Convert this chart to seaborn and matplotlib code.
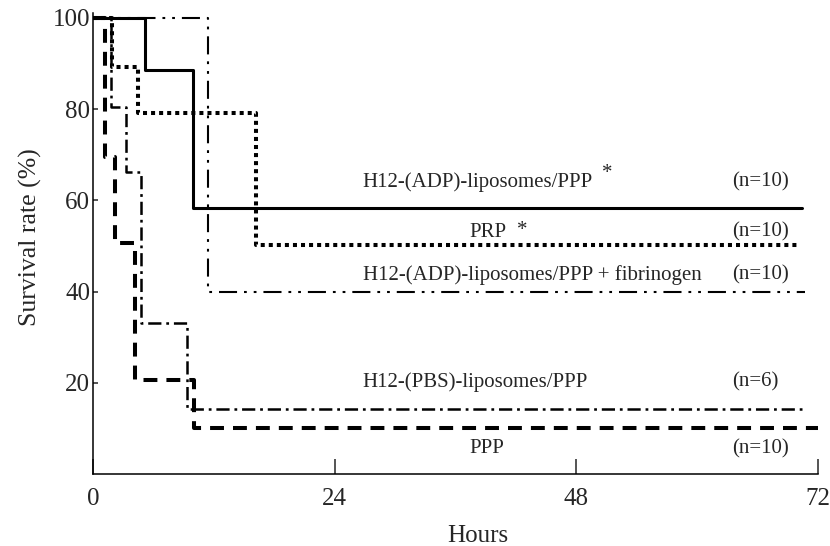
# Survival after treatment - step curves re-drawn from the figure
import matplotlib
matplotlib.use("Agg")
import matplotlib.pyplot as plt
import seaborn as sns

# step points (hours, survival %)
adp_hours = [0, 5.2, 9.9, 70.4]
adp_surv = [100, 88.5, 58.3, 58.3]
prp_hours = [0, 1.9, 4.5, 16.2, 70.2]
prp_surv = [100, 89.2, 79.1, 50.2, 50.2]
fib_hours = [0, 11.4, 70.7]
fib_surv = [100, 39.9, 39.9]
pbs_hours = [0, 1.8, 3.3, 4.8, 9.3, 70.4]
pbs_surv = [100, 80.4, 66.2, 33.1, 14.2, 14.2]
ppp_hours = [0, 1.2, 2.2, 4.2, 10.0, 72]
ppp_surv = [100, 69.5, 50.6, 20.6, 10.1, 10.1]

group_names = ["H12-(ADP)-liposomes/PPP", "PRP",
               "H12-(ADP)-liposomes/PPP + fibrinogen",
               "H12-(PBS)-liposomes/PPP", "PPP"]
group_n = ["(n=10)", "(n=10)", "(n=10)", "(n=6)", "(n=10)"]

x_ticks = [0, 24, 48, 72]
y_ticks = [20, 40, 60, 80, 100]

sns.set_style("ticks")
plt.rcParams["font.family"] = ["Liberation Serif", "DejaVu Serif"]
plt.rcParams["lines.scale_dashes"] = False

fig = plt.figure(figsize=(8.3, 5.46), dpi=100)
ax = fig.add_axes([0.112, 0.132, 0.8735, 0.8436])

# dashed PPP
sns.lineplot(x=ppp_hours, y=ppp_surv, ax=ax, color="black", lw=2.9,
             linestyle=(0, (10, 6.5)), drawstyle="steps-post",
             estimator=None, sort=False)
# dash-dot PBS liposomes
sns.lineplot(x=pbs_hours, y=pbs_surv, ax=ax, color="black", lw=1.8,
             linestyle=(0, (9.5, 3.5, 2, 3.5)), drawstyle="steps-post",
             estimator=None, sort=False)
# dash-dot-dot fibrinogen
sns.lineplot(x=fib_hours, y=fib_surv, ax=ax, color="black", lw=1.5,
             linestyle=(0, (13, 5, 2, 5, 2, 5)), drawstyle="steps-post",
             estimator=None, sort=False)
# dotted PRP
sns.lineplot(x=prp_hours, y=prp_surv, ax=ax, color="black", lw=2.9,
             linestyle=(0, (2.9, 2.9)), drawstyle="steps-post",
             estimator=None, sort=False)
# solid ADP liposomes
sns.lineplot(x=adp_hours, y=adp_surv, ax=ax, color="black", lw=2.2,
             drawstyle="steps-post", estimator=None, sort=False)

ax.set_xlim(0, 72)
ax.set_ylim(0, 101)
ax.set_xticks(x_ticks)
ax.set_xticklabels([str(t) for t in x_ticks])
ax.set_yticks(y_ticks)
ax.set_yticklabels([str(t) for t in y_ticks])
ax.tick_params(axis="x", direction="in", length=11, width=1.1, pad=10,
               labelsize=18)
ax.tick_params(axis="y", direction="in", length=3.5, width=1.1, pad=2,
               labelsize=18)
sns.despine(ax=ax)
for s in ["left", "bottom"]:
    ax.spines[s].set_linewidth(1.1)
    ax.spines[s].set_color("black")

ax.set_xlabel("Hours", fontsize=18)
ax.xaxis.set_label_coords(0.531, -0.11)
ax.set_ylabel("Survival rate (%)", fontsize=18.5)
ax.yaxis.set_label_coords(-0.07, 0.515)

# curve labels
fs = 15
ax.text(26.8, 64.0, group_names[0], fontsize=fs, ha="left", va="center")
ax.text(51.1, 65.8, "*", fontsize=fs, ha="center", va="center")
ax.text(37.4, 53.0, group_names[1], fontsize=fs, ha="left", va="center")
ax.text(42.6, 53.4, "*", fontsize=fs, ha="center", va="center")
ax.text(26.8, 43.6, group_names[2], fontsize=fs, ha="left", va="center")
ax.text(26.8, 20.2, group_names[3], fontsize=fs, ha="left", va="center")
ax.text(37.4, 5.5, group_names[4], fontsize=fs, ha="left", va="center")
for n_txt, yy in zip(group_n, [64.0, 53.0, 43.6, 20.2, 5.5]):
    ax.text(63.5, yy, n_txt, fontsize=fs, ha="left", va="center")

fig.savefig("out.png", dpi=100, facecolor="white")
